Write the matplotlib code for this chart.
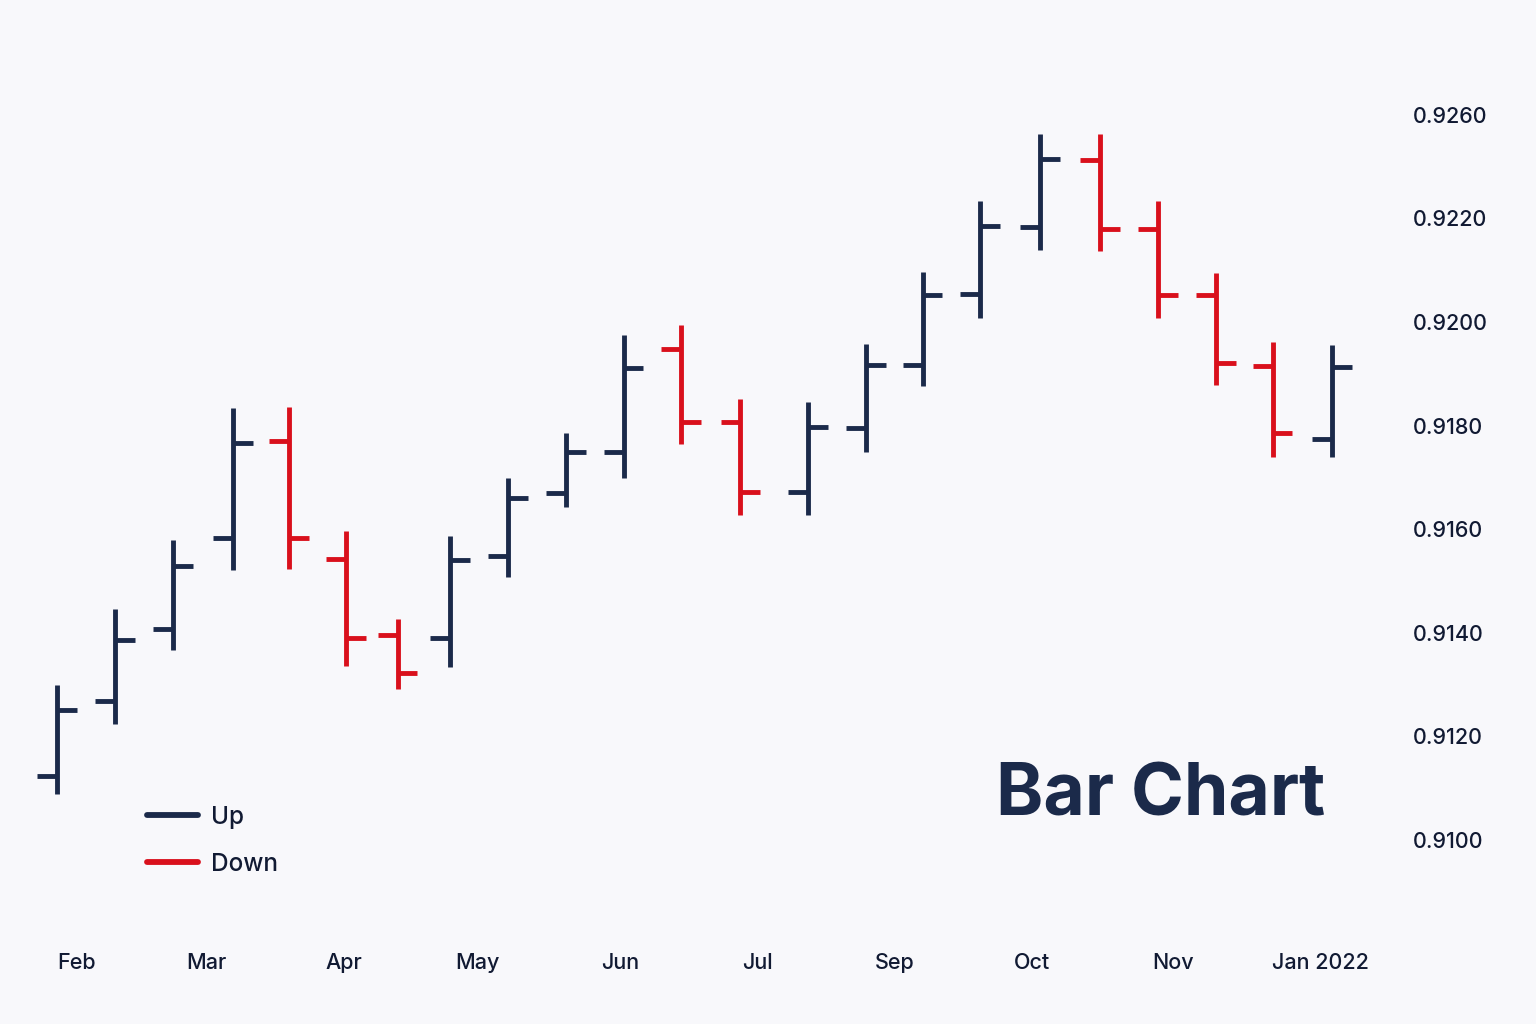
import matplotlib.pyplot as plt
from matplotlib.lines import Line2D

# bar positions (spacing in the reference is not quite even)
bar_x = [0, 1.0, 2.0, 3.04, 4.0, 4.99, 5.88, 6.78, 7.78, 8.78, 9.78, 10.77,
         11.79, 12.96, 13.96, 14.94, 15.93, 16.96, 18.0, 19.0, 20.0, 20.98, 22.0]

# OHLC values
opens = [0.91124, 0.91268, 0.91407, 0.91583, 0.91770, 0.91542, 0.91396, 0.91390,
         0.91548, 0.91670, 0.91749, 0.91948, 0.91807, 0.91672, 0.91795, 0.91917,
         0.92054, 0.92183, 0.92313, 0.92180, 0.92052, 0.91915, 0.91774]
highs = [0.91299, 0.91446, 0.91579, 0.91834, 0.91836, 0.91597, 0.91427, 0.91587,
         0.91699, 0.91786, 0.91975, 0.91994, 0.91851, 0.91846, 0.91958, 0.92097,
         0.92234, 0.92363, 0.92363, 0.92234, 0.92095, 0.91961, 0.91956]
lows = [0.91089, 0.91224, 0.91367, 0.91521, 0.91523, 0.91336, 0.91292, 0.91334,
        0.91508, 0.91643, 0.91699, 0.91764, 0.91627, 0.91627, 0.91749, 0.91876,
        0.92008, 0.92139, 0.92137, 0.92008, 0.91878, 0.91739, 0.91739]
closes = [0.91251, 0.91386, 0.91529, 0.91766, 0.91583, 0.91390, 0.91322, 0.91541,
          0.91660, 0.91749, 0.91911, 0.91807, 0.91672, 0.91797, 0.91917, 0.92052,
          0.92185, 0.92315, 0.92180, 0.92052, 0.91921, 0.91786, 0.91913]

month_labels = ['Feb', 'Mar', 'Apr', 'May', 'Jun', 'Jul', 'Sep', 'Oct', 'Nov', 'Jan 2022']
month_pos = [0.33, 2.57, 4.95, 7.26, 9.72, 12.08, 14.46, 16.82, 19.26, 21.81]

ytick_vals = [0.9100, 0.9120, 0.9140, 0.9160, 0.9180, 0.9200, 0.9220, 0.9240]
ytick_labels = ['0.9100', '0.9120', '0.9140', '0.9160', '0.9180', '0.9200', '0.9220', '0.9260']

UP = '#1b2a4a'
DOWN = '#d9101c'
BG = '#f8f8fb'
TXT = '#111a33'

plt.rcParams['font.family'] = ['Inter', 'DejaVu Sans']

fig = plt.figure(figsize=(15.36, 10.24), dpi=100, facecolor=BG)
# axes spans pixel x 0..1380, y 60..920
ax = fig.add_axes([0, (1024 - 920) / 1024, 1380 / 1536, 860 / 1024])
ax.set_facecolor(BG)

tick_w = 0.34
lw = 3.5
for i in range(len(opens)):
    x = bar_x[i]
    c = UP if closes[i] >= opens[i] else DOWN
    ax.plot([x, x], [lows[i], highs[i]], color=c, lw=lw, solid_capstyle='butt')
    ax.plot([x - tick_w, x], [opens[i], opens[i]], color=c, lw=lw, solid_capstyle='butt')
    ax.plot([x, x + tick_w], [closes[i], closes[i]], color=c, lw=lw, solid_capstyle='butt')

ax.set_xlim(-0.9836, 22.83)
ax.set_ylim(0.908456, 0.925058)

ax.yaxis.tick_right()
ax.set_yticks(ytick_vals)
ax.set_yticklabels(ytick_labels)
ax.set_xticks(month_pos)
ax.set_xticklabels(month_labels)
ax.tick_params(axis='y', length=0, pad=24, labelsize=15.5, labelcolor=TXT)
ax.tick_params(axis='x', length=0, pad=24, labelsize=15.5, labelcolor=TXT)
for lab in ax.get_yticklabels() + ax.get_xticklabels():
    lab.set_fontweight('medium')
for lab in ax.get_yticklabels():
    lab.set_horizontalalignment('left')
for s in ax.spines.values():
    s.set_visible(False)

handles = [Line2D([0], [0], color=UP, lw=4.2, solid_capstyle='round'),
           Line2D([0], [0], color=DOWN, lw=4.2, solid_capstyle='round')]
leg = ax.legend(handles, ['Up', 'Down'], loc='lower left', bbox_to_anchor=(0.091, 0.026),
                frameon=False, fontsize=17.5, handlelength=2.1, handletextpad=0.5,
                labelspacing=0.98)
for t in leg.get_texts():
    t.set_color(TXT)
    t.set_fontweight('medium')

fig.text(1325 / 1536, 1 - 797 / 1024, 'Bar Chart', ha='right', va='center',
         fontsize=51.5, fontweight='bold', color=UP)

fig.savefig('out.png', dpi=100, facecolor=BG)
